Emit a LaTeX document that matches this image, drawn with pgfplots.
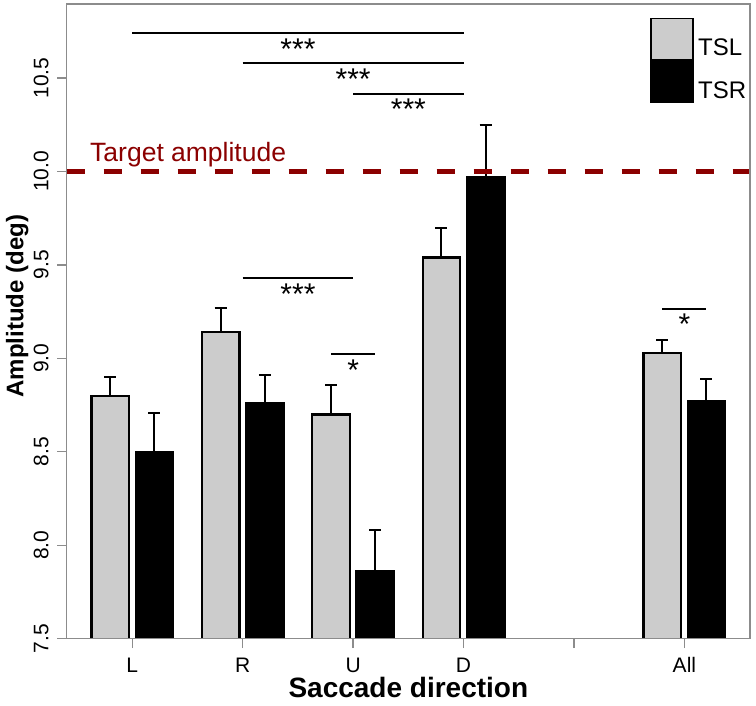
\documentclass[border=0pt]{standalone}
\usepackage{fontspec}
\setmainfont{Liberation Sans}
\usepackage{pgfplots}
\usepackage{pgfplotstable}
\pgfplotsset{compat=1.18}
\definecolor{tslgray}{HTML}{CCCCCC}
\definecolor{boxgray}{HTML}{8C8C8C}
\definecolor{targetred}{HTML}{8B0000}

% group position, mean and standard error for both conditions
\pgfplotstableread{
x  tsl   tslse  tsr   tsrse
1  8.80  0.10   8.50  0.21
2  9.14  0.13   8.76  0.15
3  8.70  0.16   7.86  0.22
4  9.54  0.16   9.97  0.28
6  9.03  0.07   8.77  0.12
}\saccades

\pgfplotsset{
  sebar/.style={forget plot, draw=none, mark=none,
    error bars/.cd, y dir=plus, y explicit,
    error bar style={draw=black, line width=2bp},
    error mark=-, error mark options={draw=black, line width=2bp, mark size=6bp, rotate=90}},
}

\begin{document}
\begin{tikzpicture}
\path[use as bounding box] (-66.7bp,-67.3bp) rectangle (689.3bp,638.7bp);
\begin{axis}[
    scale only axis, width=683.3bp, height=634.7bp,
    at={(0,0)}, anchor=south west,
    xmin=0.406, xmax=6.594, ymin=7.5, ymax=10.896,
    axis on top,
    axis line style={boxgray, line width=1.3bp},
    tick pos=left, tick align=outside, major tick length=9.5bp,
    tick style={boxgray, line width=1.3bp},
    xtick={1,2,3,4,5,6}, xticklabels={L,R,U,D,,All},
    ytick={7.5,8,8.5,9,9.5,10,10.5},
    /pgf/number format/fixed, /pgf/number format/fixed zerofill,
    /pgf/number format/precision=1, /pgf/number format/assume math mode=true,
    yticklabel style={font=\fontsize{21bp}{25bp}\selectfont, inner sep=0pt, xshift=-8.7bp, rotate=90, anchor=base},
    xticklabel style={font=\fontsize{21bp}{25bp}\selectfont, inner sep=0pt, anchor=base, yshift=-23.8bp},
    xlabel={Saccade direction},
    xlabel style={font=\bfseries\fontsize{28bp}{32bp}\selectfont, at={(axis description cs:0.5,-0.0919)}, anchor=base, inner sep=0pt},
    ylabel={Amplitude (deg)},
    ylabel style={font=\bfseries\fontsize{24bp}{28bp}\selectfont, at={(axis description cs:-0.0635,0.524)}, anchor=base, inner sep=0pt},
    legend style={at={(axis cs:5.687,10.823)}, anchor=north west, draw=none, fill=none, inner sep=0pt,
        row sep=0pt, column sep=4.4bp, font=\fontsize{24bp}{28bp}\selectfont, nodes={inner sep=0pt}},
    legend cell align=left,
]
\addplot[ybar, bar width=0.34, bar shift=-0.2, fill=tslgray, draw=black, line width=2.2bp,
    legend image code/.code={\draw[fill=tslgray, draw=black, line width=1.5bp] (0bp,-12bp) rectangle (42.3bp,29.2bp);}]
    table[x=x, y=tsl] {\saccades};
\addlegendentry{TSL}
\addplot[ybar, bar width=0.34, bar shift=0.2, fill=black, draw=black, line width=2.2bp,
    legend image code/.code={\draw[fill=black, draw=black, line width=1.5bp] (0bp,-12bp) rectangle (42.3bp,29.2bp);}]
    table[x=x, y=tsr] {\saccades};
\addlegendentry{TSR}

% standard errors, upward only, at the bar centres
\addplot[sebar] table[x expr=\thisrow{x}-0.2, y=tsl, y error=tslse] {\saccades};
\addplot[sebar] table[x expr=\thisrow{x}+0.2, y=tsr, y error=tsrse] {\saccades};

% target amplitude
\addplot[targetred, line width=4.6bp, dash pattern=on 18bp off 19bp, forget plot]
    coordinates {(0.406,10) (6.594,10)};
\node[anchor=base west, inner sep=0pt, text=targetred, font=\fontsize{26.5bp}{30bp}\selectfont]
    at (axis cs:0.617,10.052) {Target amplitude};

% significance brackets
\addplot[black, line width=2bp, forget plot] coordinates {(1,10.742) (4,10.742)};
\addplot[black, line width=2bp, forget plot] coordinates {(2,10.579) (4,10.579)};
\addplot[black, line width=2bp, forget plot] coordinates {(3,10.414) (4,10.414)};
\addplot[black, line width=2bp, forget plot] coordinates {(2,9.428) (3,9.428)};
\addplot[black, line width=2bp, forget plot] coordinates {(2.8,9.022) (3.2,9.022)};
\addplot[black, line width=2bp, forget plot] coordinates {(5.8,9.262) (6.2,9.262)};
\begin{scope}[every node/.style={anchor=north, inner sep=0pt, font=\fontsize{30bp}{34bp}\selectfont}]
\node at (axis cs:2.5,10.712) {***};
\node at (axis cs:3.0,10.552) {***};
\node at (axis cs:3.5,10.388) {***};
\node at (axis cs:2.5,9.402) {***};
\node at (axis cs:3.0,8.991) {*};
\node at (axis cs:6.0,9.237) {*};
\end{scope}
\end{axis}
\end{tikzpicture}
\end{document}
